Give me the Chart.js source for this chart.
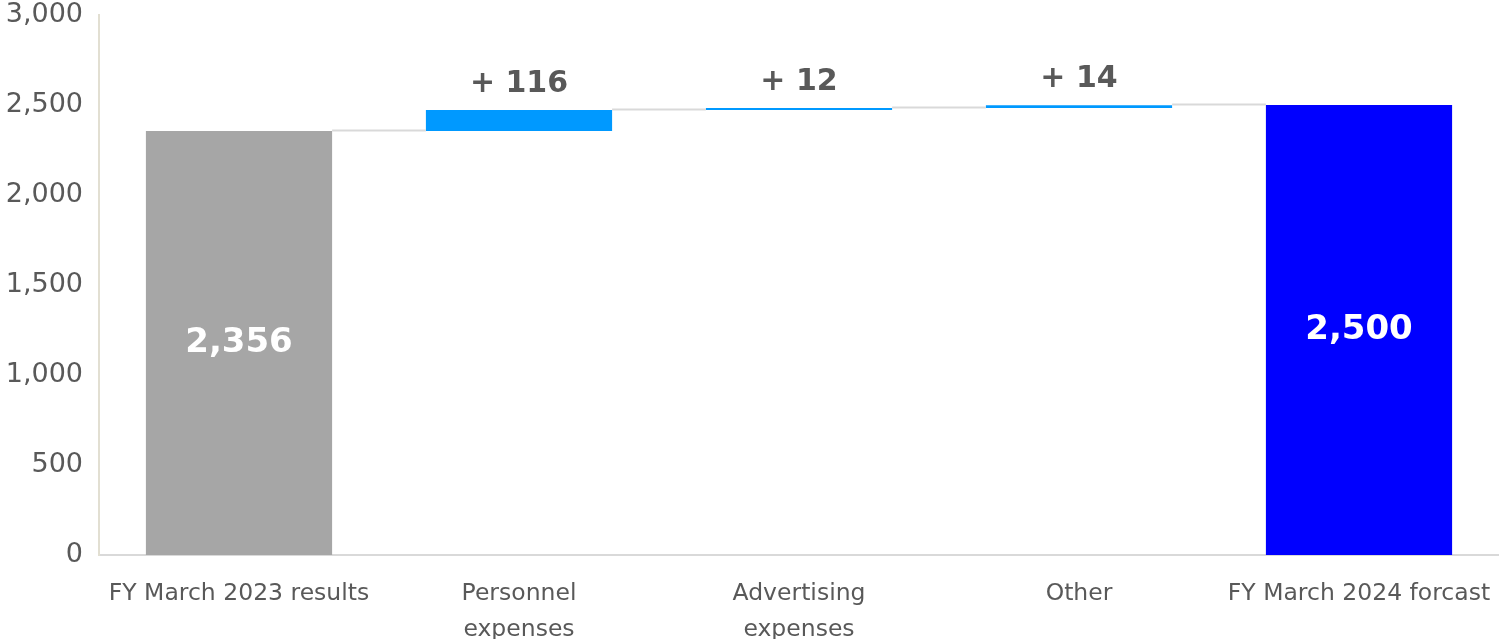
<!DOCTYPE html>
<html>
<head>
<meta charset="utf-8">
<style>
  html, body { margin: 0; padding: 0; background: #ffffff; }
  #wrap { position: relative; width: 1499px; height: 639px; }
</style>
<script src="https://cdn.jsdelivr.net/npm/chart.js@4.4.1/dist/chart.umd.min.js"></script>
</head>
<body>
<div id="wrap"><canvas id="chart" width="1499" height="639"></canvas></div>
<script>
// Categories of the cost bridge
const categories = [
  'FY March 2023 results',
  ['Personnel', 'expenses'],
  ['Advertising', 'expenses'],
  'Other',
  'FY March 2024 forcast'
];
// 'total' bars start at zero; 'step' bars add onto the running total
const kinds = ['total', 'step', 'step', 'step', 'total'];
const values = [2356, 116, 12, 14, 2500];
const yTicks = [0, 500, 1000, 1500, 2000, 2500, 3000];

const barColors = { total0: '#a6a6a6', step: '#0099ff', total1: '#0000ff' };

// Build floating [start, end] ranges from the values
const ranges = [];
let running = 0;
values.forEach((v, i) => {
  if (kinds[i] === 'total') {
    ranges.push([0, v]);
    running = v;
  } else {
    ranges.push([running, running + v]);
    running += v;
  }
});
const colors = kinds.map((k, i) => k === 'step' ? barColors.step : (i === 0 ? barColors.total0 : barColors.total1));

const fmt = n => n.toLocaleString('en-US');

// Thin grey connectors between neighbouring bars, plus value labels
const bridgePlugin = {
  id: 'bridge',
  afterDatasetsDraw(chart) {
    const { ctx } = chart;
    const y = chart.scales.y;
    const meta = chart.getDatasetMeta(0);
    ctx.save();
    ctx.strokeStyle = '#d9d9d9';
    ctx.lineWidth = 2;
    for (let i = 0; i < meta.data.length - 1; i++) {
      const a = meta.data[i], b = meta.data[i + 1];
      const level = ranges[i][1];
      const py = Math.round(y.getPixelForValue(level)) - 0.5;
      ctx.beginPath();
      ctx.moveTo(a.x + a.width / 2, py);
      ctx.lineTo(b.x - b.width / 2, py);
      ctx.stroke();
    }
    ctx.textAlign = 'center';
    meta.data.forEach((el, i) => {
      if (kinds[i] === 'total') {
        ctx.fillStyle = '#ffffff';
        ctx.font = 'bold 34px "DejaVu Sans", sans-serif';
        ctx.textBaseline = 'middle';
        const mid = (y.getPixelForValue(ranges[i][0]) + y.getPixelForValue(ranges[i][1])) / 2;
        ctx.fillText(fmt(values[i]), el.x, mid);
      } else {
        ctx.fillStyle = '#595959';
        ctx.font = 'bold 30px "DejaVu Sans", sans-serif';
        ctx.textBaseline = 'middle';
        const top = y.getPixelForValue(ranges[i][1]);
        ctx.fillText('+ ' + fmt(values[i]), el.x, top - 26);
      }
    });
    ctx.restore();
  }
};

new Chart(document.getElementById('chart'), {
  type: 'bar',
  data: {
    labels: categories,
    datasets: [{
      data: ranges,
      backgroundColor: colors,
      borderWidth: 0,
      categoryPercentage: 1,
      barPercentage: 0.665
    }]
  },
  options: {
    responsive: false,
    animation: false,
    layout: { padding: { top: 15, right: 0, left: 0, bottom: 0 } },
    plugins: { legend: { display: false }, tooltip: { enabled: false }, title: { display: false } },
    scales: {
      x: {
        grid: { display: false, drawTicks: false },
        border: { display: true, color: '#d9d9d9', width: 2 },
        ticks: {
          color: '#595959',
          padding: 21,
          maxRotation: 0,
          autoSkip: false,
          font: { family: '"DejaVu Sans", sans-serif', size: 23.5, lineHeight: 1.53 }
        },
        afterFit(scale) {
          scale.height = 84;
          scale.paddingLeft = 0;
          scale.paddingRight = 0;
        }
      },
      y: {
        min: 0,
        max: 3000,
        grid: { display: false, drawTicks: false },
        border: { display: true, color: '#e2dfd2', width: 2 },
        afterBuildTicks(scale) { scale.ticks = yTicks.map(v => ({ value: v })); },
        ticks: {
          color: '#595959',
          padding: 16,
          font: { family: '"DejaVu Sans", sans-serif', size: 27 },
          callback: v => fmt(v)
        },
        afterFit(scale) {
          scale.width = 99;
          scale.paddingTop = 0;
          scale.paddingBottom = 0;
        }
      }
    }
  },
  plugins: [bridgePlugin]
});
</script>
</body>
</html>
